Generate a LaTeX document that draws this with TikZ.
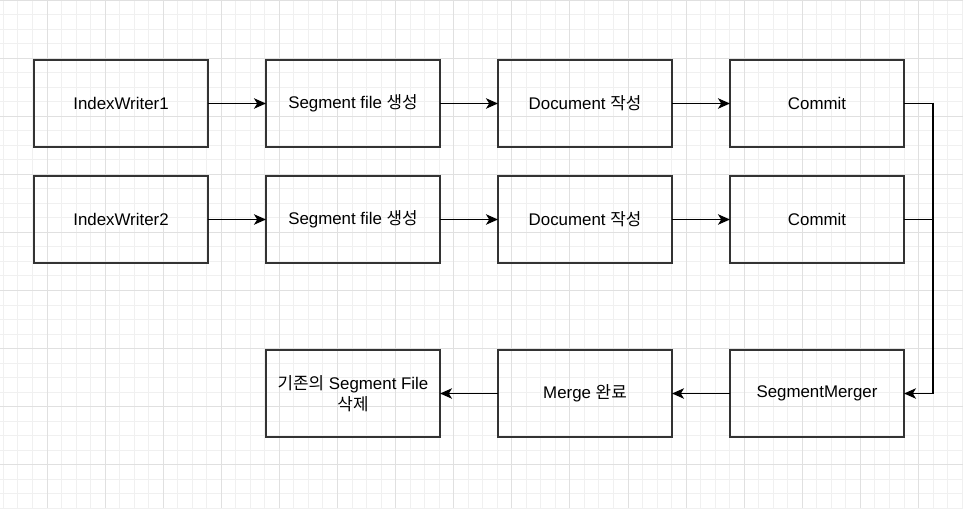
\documentclass[tikz,border=0pt]{standalone}
\usepackage{fontspec}
\setmainfont{Liberation Sans}
\newfontfamily\kor{Noto Sans CJK KR}
\usepackage{tikz}
\usetikzlibrary{shapes,arrows,arrows.meta,positioning}
\definecolor{minorgrid}{HTML}{F0F0F0}
\definecolor{majorgrid}{HTML}{E0E0E0}
\definecolor{boxline}{HTML}{333333}

\begin{document}
\begin{tikzpicture}[node distance=1.45cm,auto,>={Stealth[length=0.3cm,width=0.26cm,inset=0.08cm]},
                stage/.style={draw=boxline, align=center, rectangle, minimum height=2.175cm, minimum width=4.35cm, line width=0.45mm, font=\fontsize{12}{15}\selectfont, inner sep=0pt, outer sep=0pt},
                link/.style={line width=0.42mm, black}
                ]
                \useasboundingbox (0,0) rectangle (24.075,-12.7);
                % background grid
                \foreach \i in {0,...,66} \draw[minorgrid, line width=0.025cm] (0.086+\i*0.36313,0) -- ++(0,-12.7);
                \foreach \i in {0,...,35} \draw[minorgrid, line width=0.025cm] (0,-\i*0.36313) -- ++(24.075,0);
                \foreach \i in {0,...,15} \draw[majorgrid, line width=0.025cm] (1.175+\i*1.4525,0) -- ++(0,-12.7);
                \foreach \i in {0,...,8} \draw[majorgrid, line width=0.025cm] (0,-\i*1.4525) -- ++(24.075,0);

                \node[stage] (writer1) at (3.025,-2.5875) {IndexWriter1};
                \node[stage, right=of writer1] (segment1) {Segment file {\kor 생성}};
                \node[stage, right=of segment1] (document1) {Document {\kor 작성}};
                \node[stage, right=of document1] (commit1) {Commit};

                \node[stage, below=0.725cm of writer1] (writer2) {IndexWriter2};
                \node[stage, right=of writer2] (segment2) {Segment file {\kor 생성}};
                \node[stage, right=of segment2] (document2) {Document {\kor 작성}};
                \node[stage, right=of document2] (commit2) {Commit};

                \node[stage, below=2.175cm of commit2] (merger) {SegmentMerger};
                \node[stage, left=of merger] (merged) {Merge {\kor 완료}};
                \node[stage, left=of merged] (cleanup) {{\kor 기존의} Segment File\\{\kor 삭제}};

                \coordinate[right=0.725cm of commit1.east] (bend);

                \draw[->,link] (writer1) -- (segment1);
                \draw[->,link] (segment1) -- (document1);
                \draw[->,link] (document1) -- (commit1);
                \draw[->,link] (writer2) -- (segment2);
                \draw[->,link] (segment2) -- (document2);
                \draw[->,link] (document2) -- (commit2);
                \draw[->,link] (commit1.east) -- (bend) |- (merger.east);
                \draw[link] (commit2.east) -- (commit2.east -| bend);
                \draw[->,link] (merger) -- (merged);
                \draw[->,link] (merged) -- (cleanup);
        \end{tikzpicture}
\end{document}
